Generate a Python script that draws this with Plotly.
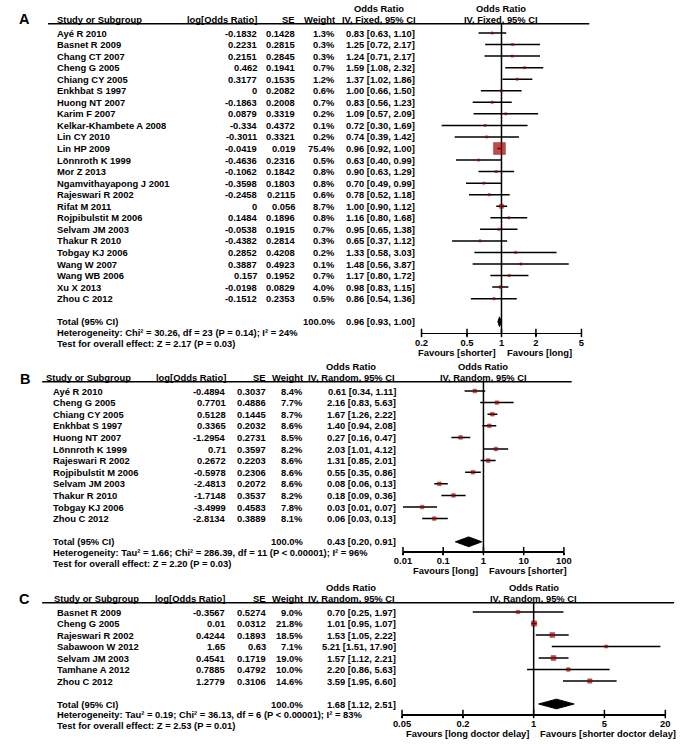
import numpy as np
import plotly.graph_objects as go

W, H = 686, 744
FONT = "Liberation Sans, Arial, sans-serif"
FS = 9.4
DARKRED = "#A00000"

# ---------------- Panel A data ----------------
a_studies = ["Ayé R 2010", "Basnet R 2009", "Chang CT 2007", "Cheng G 2005", "Chiang CY 2005",
             "Enkhbat S 1997", "Huong NT 2007", "Karim F 2007", "Kelkar-Khambete A 2008", "Lin CY 2010",
             "Lin HP 2009", "Lönnroth K 1999", "Mor Z 2013", "Ngamvithayapong J 2001", "Rajeswari R 2002",
             "Rifat M 2011", "Rojpibulstit M 2006", "Selvam JM 2003", "Thakur R 2010", "Tobgay KJ 2006",
             "Wang W 2007", "Wang WB 2006", "Xu X 2013", "Zhou C 2012"]
a_logor = [-0.1832, 0.2231, 0.2151, 0.462, 0.3177, 0, -0.1863, 0.0879, -0.334, -0.3011, -0.0419, -0.4636,
           -0.1062, -0.3598, -0.2458, 0, 0.1484, -0.0538, -0.4382, 0.2852, 0.3887, 0.157, -0.0198, -0.1512]
a_se = [0.1428, 0.2815, 0.2845, 0.1941, 0.1535, 0.2082, 0.2008, 0.3319, 0.4372, 0.3321, 0.019, 0.2316,
        0.1842, 0.1803, 0.2115, 0.056, 0.1896, 0.1915, 0.2814, 0.4208, 0.4923, 0.1952, 0.0829, 0.2353]
a_weight = [1.3, 0.3, 0.3, 0.7, 1.2, 0.6, 0.7, 0.2, 0.1, 0.2, 75.4, 0.5, 0.8, 0.8, 0.6, 8.7, 0.8, 0.7,
            0.3, 0.2, 0.1, 0.7, 4.0, 0.5]
a_or = [0.83, 1.25, 1.24, 1.59, 1.37, 1.00, 0.83, 1.09, 0.72, 0.74, 0.96, 0.63, 0.90, 0.70, 0.78, 1.00,
        1.16, 0.95, 0.65, 1.33, 1.48, 1.17, 0.98, 0.86]
a_lo = [0.63, 0.72, 0.71, 1.08, 1.02, 0.66, 0.56, 0.57, 0.30, 0.39, 0.92, 0.40, 0.63, 0.49, 0.52, 0.90,
        0.80, 0.65, 0.37, 0.58, 0.56, 0.80, 0.83, 0.54]
a_hi = [1.10, 2.17, 2.17, 2.32, 1.86, 1.50, 1.23, 2.09, 1.69, 1.42, 1.00, 0.99, 1.29, 0.99, 1.18, 1.12,
        1.68, 1.38, 1.12, 3.03, 3.87, 1.72, 1.15, 1.36]
a_total = [0.96, 0.93, 1.00]
a_total_weight = 100.0
a_het = "Heterogeneity: Chi² = 30.26, df = 23 (P = 0.14); I² = 24%"
a_test = "Test for overall effect: Z = 2.17 (P = 0.03)"
a_method = "IV, Fixed, 95% CI"
a_ticks = [0.2, 0.5, 1, 2, 5]
a_favours = ["Favours [shorter]", "Favours [long]"]

# ---------------- Panel B data ----------------
b_studies = ["Ayé R 2010", "Cheng G 2005", "Chiang CY 2005", "Enkhbat S 1997", "Huong NT 2007",
             "Lönnroth K 1999", "Rajeswari R 2002", "Rojpibulstit M 2006", "Selvam JM 2003",
             "Thakur R 2010", "Tobgay KJ 2006", "Zhou C 2012"]
b_logor = [-0.4894, 0.7701, 0.5128, 0.3365, -1.2954, 0.71, 0.2672, -0.5978, -2.4813, -1.7148, -3.4999, -2.8134]
b_se = [0.3037, 0.4886, 0.1445, 0.2032, 0.2731, 0.3597, 0.2203, 0.2306, 0.2072, 0.3537, 0.4583, 0.3889]
b_weight = [8.4, 7.7, 8.7, 8.6, 8.5, 8.2, 8.6, 8.6, 8.6, 8.2, 7.8, 8.1]
b_or = [0.61, 2.16, 1.67, 1.40, 0.27, 2.03, 1.31, 0.55, 0.08, 0.18, 0.03, 0.06]
b_lo = [0.34, 0.83, 1.26, 0.94, 0.16, 1.01, 0.85, 0.35, 0.06, 0.09, 0.01, 0.03]
b_hi = [1.11, 5.63, 2.22, 2.08, 0.47, 4.12, 2.01, 0.86, 0.13, 0.36, 0.07, 0.13]
b_total = [0.43, 0.20, 0.91]
b_total_weight = 100.0
b_het = "Heterogeneity: Tau² = 1.66; Chi² = 286.39, df = 11 (P < 0.00001); I² = 96%"
b_test = "Test for overall effect: Z = 2.20 (P = 0.03)"
b_method = "IV, Random, 95% CI"
b_ticks = [0.01, 0.1, 1, 10, 100]
b_favours = ["Favours [long]", "Favours [shorter]"]

# ---------------- Panel C data ----------------
c_studies = ["Basnet R 2009", "Cheng G 2005", "Rajeswari R 2002", "Sabawoon W 2012", "Selvam JM 2003",
             "Tamhane A 2012", "Zhou C 2012"]
c_logor = [-0.3567, 0.01, 0.4244, 1.65, 0.4541, 0.7885, 1.2779]
c_se = [0.5274, 0.0312, 0.1893, 0.63, 0.1719, 0.4792, 0.3106]
c_weight = [9.0, 21.8, 18.5, 7.1, 19.0, 10.0, 14.6]
c_or = [0.70, 1.01, 1.53, 5.21, 1.57, 2.20, 3.59]
c_lo = [0.25, 0.95, 1.05, 1.51, 1.12, 0.86, 1.95]
c_hi = [1.97, 1.07, 2.22, 17.90, 2.21, 5.63, 6.60]
c_total = [1.68, 1.12, 2.51]
c_total_weight = 100.0
c_het = "Heterogeneity: Tau² = 0.19; Chi² = 36.13, df = 6 (P < 0.00001); I² = 83%"
c_test = "Test for overall effect: Z = 2.53 (P = 0.01)"
c_method = "IV, Random, 95% CI"
c_ticks = [0.05, 0.2, 1, 5, 20]
c_favours = ["Favours [long doctor delay]", "Favours [shorter doctor delay]"]

# ---------------- layout (pixel positions / styles) ----------------
LA = dict(y0=33, s=11.55, r_min=-2.7, r_max=28.2, axis_row=25.97, fav_off=2.7, px0=423, px1=587,
          line_x0=40, line_x1=595, study_x=48, hdr_study_x=48, logor_r=255, se_r=294, wt_r=335,
          ci_r=417, ci_hdr=379, letter_row=-1.25, msize=1.38)
LB = dict(y0=391, s=11.6, r_min=-2.55, r_max=16.5, axis_row=13.8, fav_off=2.5, px0=404, px1=569,
          line_x0=34, line_x1=577, study_x=44, hdr_study_x=37, logor_r=224, se_r=265, wt_r=303,
          ci_r=398, ci_hdr=351, letter_row=-1.05, msize=1.25)
LC = dict(y0=612, s=11.5, r_min=-2.6, r_max=11.45, axis_row=8.87, fav_off=2.6, px0=403, px1=673,
          line_x0=34, line_x1=682, study_x=48, hdr_study_x=45, logor_r=223, se_r=265, wt_r=303,
          ci_r=398, ci_hdr=351, letter_row=-1.1, msize=1.12)

fig = go.Figure()
annotations = []
shapes = []


def txt(x_px, row, text, anchor, yref, size=FS, xref="paper", x=None, xshift=0):
    annotations.append(dict(
        x=(x_px / W) if x is None else x, y=row, xref=xref, yref=yref, text=text,
        showarrow=False, xanchor=anchor, yanchor="middle", xshift=xshift, borderpad=0,
        font=dict(family=FONT, size=size, color="black", weight="bold")))


def add_panel(k, letter, studies, logor, se, weight, orr, lo, hi, total, total_w, het, test, method,
              ticks, favours, L):
    xa = "xaxis" if k == 1 else f"xaxis{k}"
    ya = "yaxis" if k == 1 else f"yaxis{k}"
    xr = "x" if k == 1 else f"x{k}"
    yr = "y" if k == 1 else f"y{k}"
    n = len(studies)
    rows = np.arange(n)
    total_row = n + 1
    hdr1, hdr2, uline = -2.1, -1.15, -0.8

    top_px = L["y0"] + L["r_min"] * L["s"]
    bot_px = L["y0"] + L["r_max"] * L["s"]
    axis_px = L["y0"] + L["axis_row"] * L["s"]
    fig.layout[ya] = dict(domain=[1 - bot_px / H, 1 - top_px / H], range=[L["r_max"], L["r_min"]],
                          visible=False, anchor=xr)
    fig.layout[xa] = dict(type="log", range=[np.log10(ticks[0]), np.log10(ticks[-1])],
                          domain=[L["px0"] / W, L["px1"] / W], anchor="free",
                          position=1 - axis_px / H, showline=True, linecolor="black", linewidth=1.5,
                          ticks="outside", ticklen=2, tickwidth=1.5, tickcolor="black",
                          ticklabelstandoff=-2,
                          tickvals=ticks, ticktext=[f"{t:g}" for t in ticks], showgrid=False,
                          zeroline=False,
                          tickfont=dict(family=FONT, size=FS, color="black", weight="bold"))

    # null line
    fig.add_trace(go.Scatter(x=[1, 1], y=[uline, L["axis_row"]], mode="lines",
                             line=dict(color="black", width=1.5), xaxis=xr, yaxis=yr,
                             hoverinfo="skip"))
    # upward tick marks (ticks cross the axis)
    fig.add_trace(go.Scatter(x=ticks, y=[L["axis_row"]] * len(ticks), mode="markers",
                             marker=dict(symbol="line-ns", size=6, line=dict(color="black", width=1.5)),
                             xaxis=xr, yaxis=yr, hoverinfo="skip", cliponaxis=False))
    # CI lines
    cx, cy = [], []
    for r, l, h in zip(rows, lo, hi):
        cx += [l, h, None]
        cy += [r, r, None]
    fig.add_trace(go.Scatter(x=cx, y=cy, mode="lines", line=dict(color="black", width=1.5),
                             xaxis=xr, yaxis=yr, hoverinfo="skip"))
    # point estimates (size ~ sqrt(weight))
    sizes = np.maximum(2.2, L["msize"] * np.sqrt(np.array(weight)))
    fig.add_trace(go.Scatter(x=orr, y=rows, mode="markers",
                             marker=dict(symbol="square", size=sizes, color=DARKRED,
                                         line=dict(color="#7a0000", width=0.6)),
                             xaxis=xr, yaxis=yr, hoverinfo="skip"))
    # diamond
    est, tlo, thi = total
    hh = 0.42
    fig.add_trace(go.Scatter(x=[tlo, est, thi, est, tlo], y=[total_row, total_row - hh, total_row,
                                                            total_row + hh, total_row],
                             mode="lines", fill="toself", fillcolor="black",
                             line=dict(color="black", width=1), xaxis=xr, yaxis=yr,
                             hoverinfo="skip"))

    # header underline
    shapes.append(dict(type="line", xref="paper", yref=yr, x0=L["line_x0"] / W, x1=L["line_x1"] / W,
                       y0=uline, y1=uline, line=dict(color="black", width=1.5)))

    # panel letter
    txt(16, L["letter_row"], letter, "center", yr, size=14.5)
    # headers
    txt(L["ci_hdr"], hdr1, "Odds Ratio", "center", yr)
    txt(0, hdr1, "Odds Ratio", "center", yr, xref=xr, x=0)
    txt(L["hdr_study_x"], hdr2, "Study or Subgroup", "left", yr)
    txt(L["logor_r"], hdr2, "log[Odds Ratio]", "right", yr)
    txt(L["se_r"], hdr2, "SE", "right", yr)
    txt(L["wt_r"], hdr2, "Weight", "right", yr)
    txt(L["ci_hdr"], hdr2, method, "center", yr)
    txt(0, hdr2, method, "center", yr, xref=xr, x=0)
    # rows
    for r in rows:
        txt(L["study_x"], r, studies[r], "left", yr)
        txt(L["logor_r"], r, f"{logor[r]:g}", "right", yr)
        txt(L["se_r"], r, f"{se[r]:g}", "right", yr)
        txt(L["wt_r"], r, f"{weight[r]:.1f}%", "right", yr)
        txt(L["ci_r"], r, f"{orr[r]:.2f} [{lo[r]:.2f}, {hi[r]:.2f}]", "right", yr)
    # totals
    txt(L["study_x"], total_row, "Total (95% CI)", "left", yr)
    txt(L["wt_r"], total_row, f"{total_w:.1f}%", "right", yr)
    txt(L["ci_r"], total_row, f"{est:.2f} [{tlo:.2f}, {thi:.2f}]", "right", yr)
    txt(L["study_x"], total_row + 0.9, het, "left", yr)
    txt(L["study_x"], total_row + 1.85, test, "left", yr)
    # favours labels
    txt(0, total_row + L["fav_off"], favours[0], "right", yr, xref=xr, x=0, xshift=-4)
    txt(0, total_row + L["fav_off"], favours[1], "left", yr, xref=xr, x=0, xshift=5)


add_panel(1, "A", a_studies, a_logor, a_se, a_weight, a_or, a_lo, a_hi, a_total, a_total_weight,
          a_het, a_test, a_method, a_ticks, a_favours, LA)
add_panel(2, "B", b_studies, b_logor, b_se, b_weight, b_or, b_lo, b_hi, b_total, b_total_weight,
          b_het, b_test, b_method, b_ticks, b_favours, LB)
add_panel(3, "C", c_studies, c_logor, c_se, c_weight, c_or, c_lo, c_hi, c_total, c_total_weight,
          c_het, c_test, c_method, c_ticks, c_favours, LC)

fig.update_layout(width=W, height=H, margin=dict(l=0, r=0, t=0, b=0), showlegend=False,
                  paper_bgcolor="white", plot_bgcolor="white", annotations=annotations,
                  shapes=shapes, hovermode=False)

fig.write_html("out.html", config={"displayModeBar": False, "staticPlot": True},
               post_script="document.body.style.margin='0px';")
